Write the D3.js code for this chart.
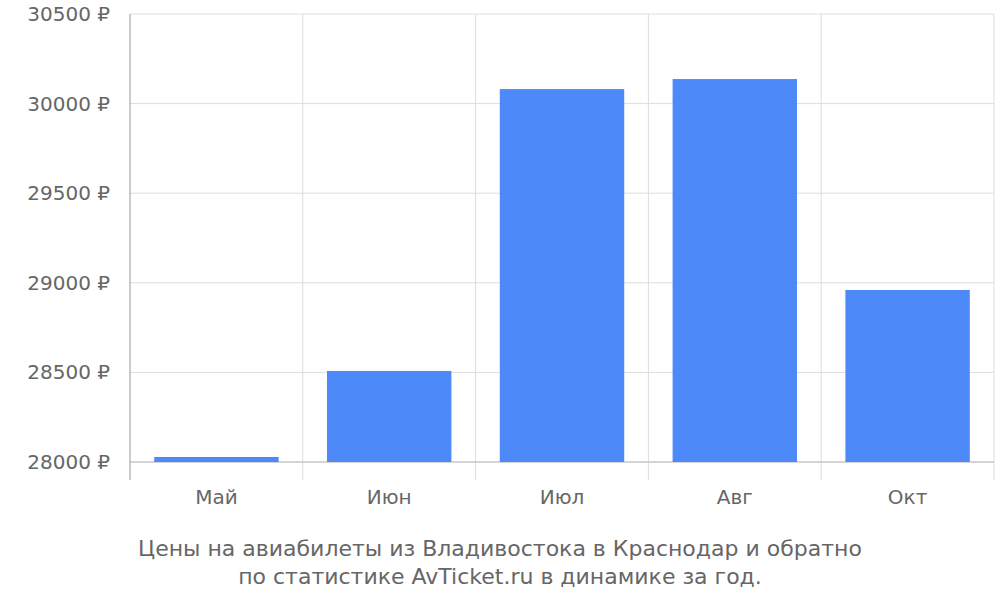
<!DOCTYPE html>
<html><head><meta charset="utf-8">
<script src="https://cdn.jsdelivr.net/npm/d3@7"></script>
<style>body{margin:0;background:#fff}text{font-family:"DejaVu Sans",sans-serif;fill:#666}</style>
</head><body><svg id="c" width="1000" height="600"></svg>
<script>
const categories = ["Май","Июн","Июл","Авг","Окт"];
const values = [28028, 28508, 30081, 30137, 28960];
const yTicks = [28000, 28500, 29000, 29500, 30000, 30500];
const titleLines = ["Цены на авиабилеты из Владивостока в Краснодар и обратно","по статистике AvTicket.ru в динамике за год."];

const svg = d3.select("#c");
const L=130, R=994, T=14, B=462;
const x = d3.scaleBand().domain(categories).range([L,R]);
const y = d3.scaleLinear().domain([28000,30500]).range([B,T]);

svg.selectAll(".hg").data(yTicks).join("line")
  .attr("x1",L).attr("x2",R).attr("y1",d=>y(d)).attr("y2",d=>y(d))
  .attr("stroke","#ddd").attr("stroke-width",1);
const bounds = categories.map(c=>x(c)).concat([R]);
svg.selectAll(".vg").data(bounds.slice(1)).join("line")
  .attr("x1",d=>d).attr("x2",d=>d).attr("y1",T).attr("y2",480)
  .attr("stroke","#ddd");
svg.append("line").attr("x1",L).attr("x2",L).attr("y1",T).attr("y2",480).attr("stroke","#999");
svg.append("line").attr("x1",L).attr("x2",R).attr("y1",B).attr("y2",B).attr("stroke","#bbb");

const bw = x.bandwidth()*0.72;
svg.selectAll(".bar").data(values).join("rect")
  .attr("x",(d,i)=>x(categories[i])+(x.bandwidth()-bw)/2)
  .attr("width",bw).attr("y",d=>y(d)).attr("height",d=>B-y(d))
  .attr("fill","#4d89f9");

svg.selectAll(".yl").data(yTicks).join("text")
  .attr("x",110).attr("y",d=>y(d)+7).attr("text-anchor","end")
  .attr("font-size",20).text(d=>d+" ₽");
svg.selectAll(".xl").data(categories).join("text")
  .attr("x",d=>x(d)+x.bandwidth()/2).attr("y",504).attr("text-anchor","middle")
  .attr("font-size",20).text(d=>d);
svg.selectAll(".tt").data(titleLines).join("text")
  .attr("x",500).attr("y",(d,i)=>556+i*28).attr("text-anchor","middle")
  .attr("font-size",22).text(d=>d);
</script></body></html>
